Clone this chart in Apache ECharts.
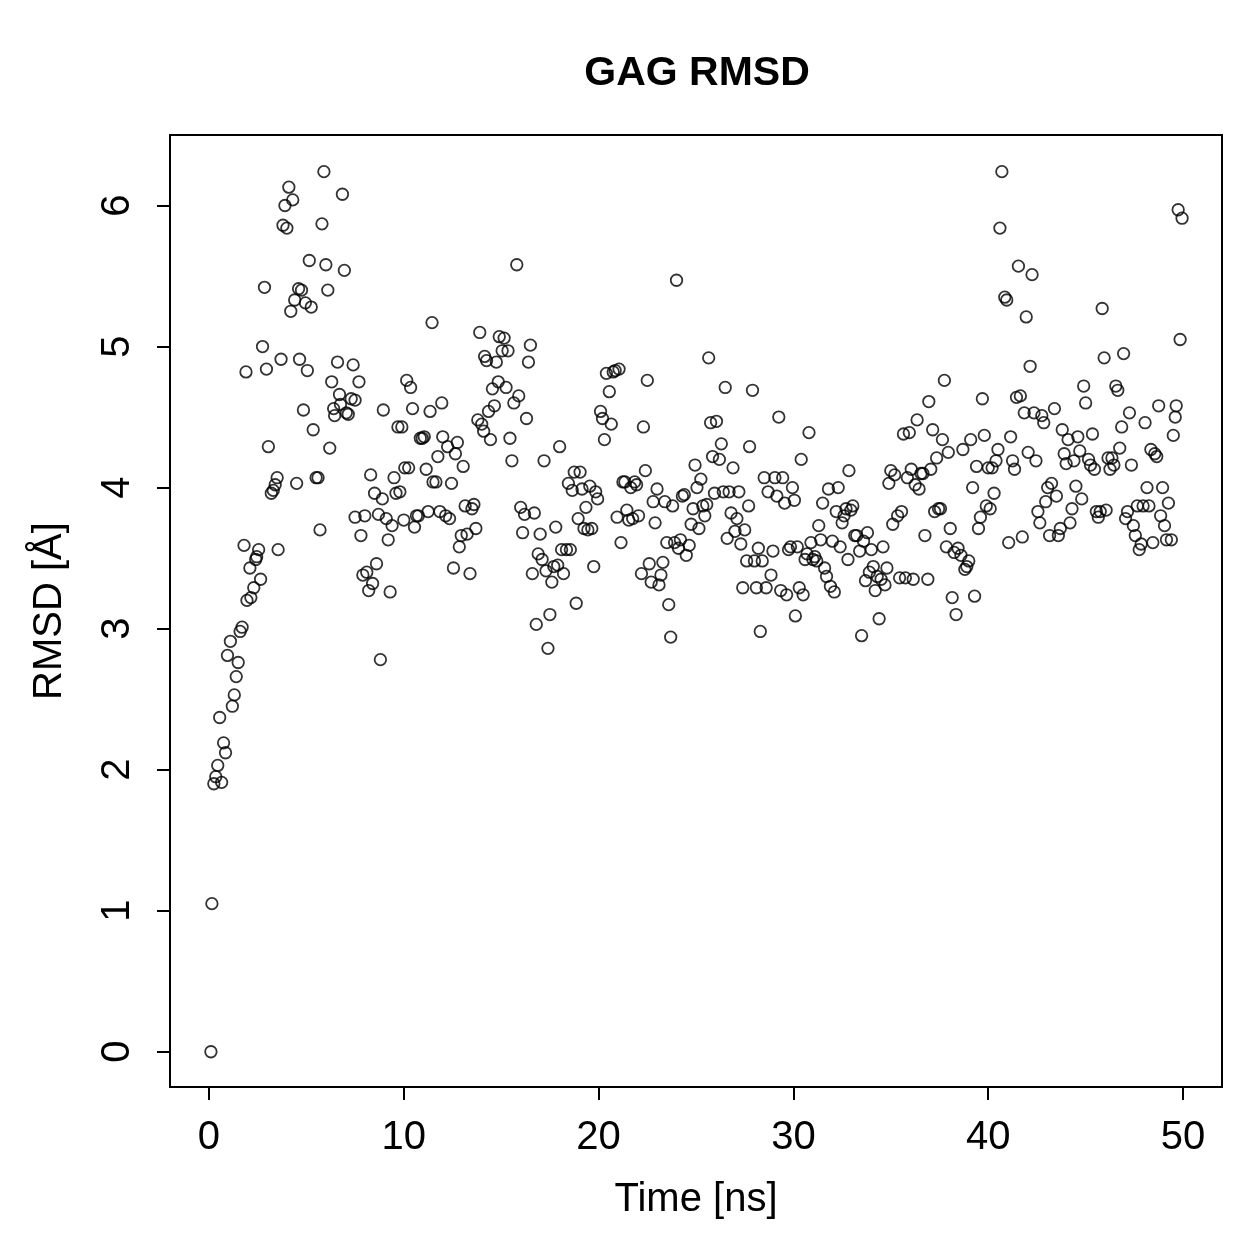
<!DOCTYPE html>
<html>
<head>
<meta charset="utf-8">
<script src="https://cdn.jsdelivr.net/npm/echarts@6/dist/echarts.min.js"></script>
<style>
  html, body { margin: 0; padding: 0; background: #fff; }
</style>
</head>
<body>
<!-- chart container -->
<div id="myChart" style="width: 1259px; height: 1259px;"></div>
<script>
// time [ns]
var timeNs = [
  0.1, 0.15, 0.25, 0.35, 0.45, 0.65, 0.55, 0.75, 0.85, 0.95,
  1.1, 1.2, 1.3, 1.4, 1.5, 1.6, 1.7, 1.8, 1.9, 1.95,
  2.15, 2.1, 2.3, 2.4, 2.45, 2.55, 2.65, 2.75, 2.85, 2.95,
  3.05, 3.2, 3.3, 3.4, 3.5, 3.55, 3.7, 3.8, 3.9, 4.0,
  4.1, 4.2, 4.3, 4.4, 4.5, 4.6, 4.65, 4.75, 4.85, 4.95,
  5.05, 5.15, 5.25, 5.35, 5.5, 5.6, 5.7, 5.8, 5.9, 6.0,
  6.1, 6.2, 6.3, 6.4, 6.45, 6.6, 6.7, 6.75, 6.85, 6.95,
  7.05, 7.15, 7.3, 7.4, 7.5, 7.5, 7.7, 7.8, 7.9, 8.0,
  8.1, 8.2, 8.3, 8.4, 8.5, 8.6, 8.7, 8.8, 8.9, 8.95,
  9.1, 9.2, 9.3, 9.4, 9.5, 9.6, 9.7, 9.8, 9.9, 10.0,
  10.05, 10.15, 10.25, 10.35, 10.45, 10.55, 10.65, 10.75, 10.85, 10.95,
  11.05, 11.15, 11.25, 11.35, 11.45, 11.5, 11.65, 11.75, 11.85, 11.95,
  12.0, 12.15, 12.25, 12.35, 12.45, 12.55, 12.65, 12.75, 12.85, 12.95,
  13.05, 13.15, 13.25, 13.4, 13.5, 13.6, 13.7, 13.8, 13.9, 14.0,
  14.1, 14.15, 14.25, 14.35, 14.45, 14.55, 14.65, 14.75, 14.85, 14.9,
  15.05, 15.15, 15.25, 15.35, 15.45, 15.55, 15.65, 15.8, 15.9, 16.0,
  16.1, 16.2, 16.3, 16.4, 16.5, 16.6, 16.7, 16.8, 16.9, 17.0,
  17.1, 17.2, 17.3, 17.4, 17.5, 17.6, 17.7, 17.8, 17.9, 18.0,
  18.1, 18.2, 18.35, 18.45, 18.55, 18.65, 18.75, 18.85, 18.95, 19.05,
  19.15, 19.25, 19.35, 19.45, 19.55, 19.65, 19.75, 19.85, 19.95, 20.1,
  20.2, 20.3, 20.4, 20.55, 20.65, 20.75, 20.85, 20.95, 21.05, 21.15,
  21.25, 21.35, 21.45, 21.55, 21.65, 21.75, 21.85, 21.95, 22.05, 22.2,
  22.3, 22.4, 22.5, 22.6, 22.7, 22.8, 22.9, 23.0, 23.1, 23.2,
  23.3, 23.4, 23.5, 23.6, 23.7, 23.8, 23.9, 24.0, 24.1, 24.2,
  24.3, 24.4, 24.5, 24.65, 24.75, 24.85, 24.95, 25.05, 25.15, 25.25,
  25.35, 25.45, 25.55, 25.65, 25.75, 25.85, 25.95, 26.05, 26.2, 26.3,
  26.4, 26.5, 26.6, 26.7, 26.8, 26.9, 27.0, 27.1, 27.2, 27.3,
  27.4, 27.5, 27.6, 27.7, 27.75, 27.9, 28.0, 28.1, 28.2, 28.3,
  28.4, 28.5, 28.6, 28.7, 28.85, 28.95, 29.05, 29.15, 29.25, 29.35,
  29.45, 29.55, 29.65, 29.75, 29.85, 29.95, 30.05, 30.1, 30.2, 30.3,
  30.4, 30.5, 30.6, 30.7, 30.8, 30.9, 31.0, 31.1, 31.2, 31.3,
  31.4, 31.5, 31.6, 31.7, 31.8, 31.9, 32.0, 32.1, 32.2, 32.3,
  32.4, 32.5, 32.6, 32.7, 32.8, 32.85, 32.95, 33.05, 33.15, 33.25,
  33.4, 33.5, 33.6, 33.7, 33.8, 33.9, 34.0, 34.1, 34.2, 34.3,
  34.4, 34.5, 34.6, 34.7, 34.8, 34.9, 35.0, 35.1, 35.2, 35.35,
  35.45, 35.55, 35.65, 35.75, 35.85, 35.95, 36.05, 36.15, 36.25, 36.35,
  36.45, 36.55, 36.65, 36.75, 36.9, 36.95, 37.05, 37.15, 37.25, 37.35,
  37.45, 37.55, 37.65, 37.75, 37.85, 37.95, 38.05, 38.15, 38.25, 38.35,
  38.45, 38.6, 38.7, 38.8, 38.9, 39.0, 39.1, 39.2, 39.3, 39.4,
  39.5, 39.6, 39.7, 39.8, 39.9, 40.0, 40.1, 40.2, 40.3, 40.4,
  40.5, 40.6, 40.7, 40.85, 40.95, 41.05, 41.15, 41.25, 41.35, 41.45,
  41.55, 41.65, 41.75, 41.85, 41.95, 42.05, 42.15, 42.25, 42.35, 42.45,
  42.55, 42.65, 42.75, 42.85, 42.95, 43.05, 43.15, 43.25, 43.4, 43.5,
  43.6, 43.7, 43.8, 43.9, 44.0, 44.1, 44.2, 44.3, 44.4, 44.5,
  44.6, 44.7, 44.8, 44.9, 45.0, 45.15, 45.25, 45.35, 45.45, 45.55,
  45.65, 45.75, 45.85, 45.95, 46.05, 46.15, 46.25, 46.35, 46.45, 46.55,
  46.65, 46.75, 46.85, 46.95, 47.05, 47.15, 47.25, 47.35, 47.45, 47.55,
  47.65, 47.75, 47.85, 47.95, 48.05, 48.15, 48.25, 48.35, 48.45, 48.55,
  48.65, 48.75, 48.85, 48.95, 49.05, 49.15, 49.25, 49.4, 49.5, 49.6,
  49.65, 49.75, 49.85, 49.95
];
// RMSD [Å]
var rmsd = [
  0.0, 1.05, 1.90, 1.95, 2.03, 1.91, 2.37, 2.19, 2.12, 2.81,
  2.91, 2.45, 2.53, 2.66, 2.76, 2.98, 3.01, 3.59, 4.82, 3.20,
  3.22, 3.43, 3.29, 3.49, 3.51, 3.56, 3.35, 5.00, 5.42, 4.84,
  4.29, 3.96, 3.98, 4.02, 4.07, 3.56, 4.91, 5.86, 6.00, 5.84,
  6.13, 5.25, 6.04, 5.33, 4.03, 5.41, 4.91, 5.40, 4.55, 5.31,
  4.83, 5.61, 5.28, 4.41, 4.07, 4.07, 3.70, 5.87, 6.24, 5.58,
  5.40, 4.28, 4.75, 4.56, 4.51, 4.89, 4.66, 4.59, 6.08, 5.54,
  4.53, 4.52, 4.63, 4.87, 4.62, 3.79, 4.75, 3.66, 3.38, 3.80,
  3.40, 3.27, 4.09, 3.32, 3.96, 3.46, 3.81, 2.78, 3.92, 4.55,
  3.78, 3.63, 3.26, 3.73, 4.07, 3.96, 4.43, 3.97, 4.43, 3.77,
  4.14, 4.76, 4.14, 4.71, 4.56, 3.72, 3.80, 3.80, 4.35, 4.35,
  4.36, 4.13, 3.83, 4.54, 5.17, 4.04, 4.04, 4.22, 3.83, 4.60,
  4.36, 3.80, 4.29, 3.78, 4.03, 3.43, 4.24, 4.32, 3.58, 3.66,
  4.15, 3.87, 3.67, 3.39, 3.85, 3.88, 3.71, 4.48, 5.10, 4.45,
  4.40, 4.93, 4.90, 4.54, 4.34, 4.70, 4.58, 4.89, 4.75, 5.07,
  4.97, 5.06, 4.71, 4.97, 4.35, 4.19, 4.60, 5.58, 4.65, 3.86,
  3.68, 3.81, 4.49, 4.89, 5.01, 3.39, 3.82, 3.03, 3.53, 3.67,
  3.49, 4.19, 3.41, 2.86, 3.10, 3.33, 3.44, 3.72, 3.45, 4.29,
  3.56, 3.39, 3.56, 4.03, 3.56, 3.98, 4.11, 3.18, 3.78, 4.11,
  3.99, 3.71, 3.86, 3.70, 4.01, 3.71, 3.44, 3.97, 3.92, 4.54,
  4.49, 4.34, 4.81, 4.68, 4.45, 4.82, 4.83, 3.79, 4.84, 3.61,
  4.04, 4.04, 3.84, 3.77, 4.00, 3.78, 4.04, 4.02, 3.80, 3.39,
  4.43, 4.12, 4.76, 3.46, 3.33, 3.90, 3.75, 3.99, 3.31, 3.38,
  3.47, 3.90, 3.61, 3.17, 2.94, 3.87, 3.61, 5.47, 3.57, 3.63,
  3.94, 3.95, 3.52, 3.59, 3.74, 3.85, 4.16, 4.00, 3.71, 4.06,
  3.87, 3.80, 3.88, 4.92, 4.46, 4.22, 3.96, 4.47, 4.20, 4.31,
  3.97, 4.71, 3.64, 3.97, 3.82, 4.14, 3.69, 3.78, 3.97, 3.60,
  3.29, 3.70, 3.48, 3.87, 4.29, 4.69, 3.48, 3.29, 3.57, 2.98,
  3.48, 4.07, 3.29, 3.97, 3.38, 3.55, 4.07, 3.94, 4.50, 3.27,
  4.07, 3.89, 3.24, 3.56, 3.58, 4.00, 3.91, 3.09, 3.58, 3.29,
  4.20, 3.24, 3.49, 3.53, 4.39, 3.61, 3.49, 3.51, 3.48, 3.73,
  3.63, 3.89, 3.43, 3.37, 3.99, 3.30, 3.62, 3.26, 3.83, 4.00,
  3.58, 3.75, 3.80, 3.85, 3.49, 4.12, 3.84, 3.87, 3.66, 3.66,
  3.55, 2.95, 3.62, 3.34, 3.68, 3.40, 3.56, 3.44, 3.27, 3.37,
  3.07, 3.35, 3.58, 3.31, 3.43, 4.03, 4.12, 3.74, 4.09, 3.80,
  3.36, 3.83, 4.38, 3.36, 4.07, 4.39, 4.13, 3.35, 4.02, 4.48,
  3.99, 4.10, 4.10, 3.66, 3.35, 4.61, 4.13, 4.41, 3.83, 4.21,
  3.85, 3.85, 4.34, 4.76, 3.58, 4.25, 3.71, 3.22, 3.54, 3.10,
  3.57, 3.52, 4.27, 3.42, 3.44, 3.48, 4.34, 4.00, 3.23, 4.15,
  3.71, 3.79, 4.63, 4.37, 3.87, 4.14, 3.85, 4.14, 3.96, 4.19,
  4.27, 5.84, 6.24, 5.35, 5.33, 3.61, 4.36, 4.19, 4.13, 4.64,
  5.57, 4.65, 3.65, 4.53, 5.21, 4.25, 4.86, 5.51, 4.53, 4.19,
  3.83, 3.75, 4.51, 4.46, 3.90, 4.00, 3.66, 4.03, 4.56, 3.94,
  3.66, 3.71, 4.41, 4.24, 4.17, 4.34, 3.75, 3.85, 4.19, 4.01,
  4.36, 4.26, 3.92, 4.72, 4.60, 4.20, 4.16, 4.38, 4.13, 3.83,
  3.79, 3.83, 5.27, 4.92, 3.84, 4.21, 4.13, 4.21, 4.16, 4.72,
  4.69, 4.28, 4.43, 4.95, 3.78, 3.83, 4.53, 4.16, 3.73, 3.66,
  3.87, 3.56, 3.60, 3.87, 4.46, 4.00, 3.87, 4.27, 3.61, 4.24,
  4.22, 4.58, 3.80, 4.00, 3.73, 3.63, 3.89, 3.63, 4.37, 4.50,
  4.58, 5.97, 5.05, 5.91
];
// tick labels
var xTicks = [0, 10, 20, 30, 40, 50];
var yTicks = [0, 1, 2, 3, 4, 5, 6];

var points = [];
for (var i = 0; i < timeNs.length; i++) {
  points.push([timeNs[i], rmsd[i]]);
}

var myChart = echarts.init(document.getElementById('myChart'));
var font = 'Liberation Sans, Arial, Helvetica, sans-serif';
var option = {
  backgroundColor: '#fff',
  animation: false,
  title: {
    text: 'GAG RMSD',
    left: 692,
    top: 48,
    textAlign: 'center',
    textStyle: { fontFamily: font, fontWeight: 'bold', fontSize: 41, color: '#000' },
  },
  grid: {
    left: 170,
    top: 135,
    right: 37,
    bottom: 172,
    show: true,
    borderColor: '#000',
    borderWidth: 2,
    backgroundColor: 'transparent',
  },
  xAxis: {
    type: 'value',
    min: -2,
    max: 52,
    name: 'Time [ns]',
    nameLocation: 'middle',
    nameGap: 93,
    nameTextStyle: { fontFamily: font, fontSize: 40, color: '#000' },
    axisLine: { show: true, onZero: false, lineStyle: { color: '#000', width: 2 } },
    axisTick: { show: true, length: 13, customValues: xTicks, lineStyle: { color: '#000', width: 2 } },
    axisLabel: { customValues: xTicks, margin: 31, fontFamily: font, fontSize: 40, color: '#000' },
    splitLine: { show: false },
  },
  yAxis: {
    type: 'value',
    min: -0.25,
    max: 6.5,
    name: 'RMSD [Å]',
    nameLocation: 'middle',
    nameGap: 100,
    nameTextStyle: { fontFamily: font, fontSize: 40, color: '#000' },
    axisLine: { show: true, onZero: false, lineStyle: { color: '#000', width: 2 } },
    axisTick: { show: true, length: 13, customValues: yTicks, lineStyle: { color: '#000', width: 2 } },
    axisLabel: { customValues: yTicks, rotate: 90, margin: 32, fontFamily: font, fontSize: 40, color: '#000' },
    splitLine: { show: false },
  },
  series: [
    {
      type: 'scatter',
      data: points,
      symbol: 'circle',
      symbolSize: 11.5,
      itemStyle: { color: 'transparent', borderColor: '#000', borderWidth: 1.8 },
      emphasis: { disabled: true },
    },
  ],
};
option && myChart.setOption(option);
</script>
</body>
</html>
